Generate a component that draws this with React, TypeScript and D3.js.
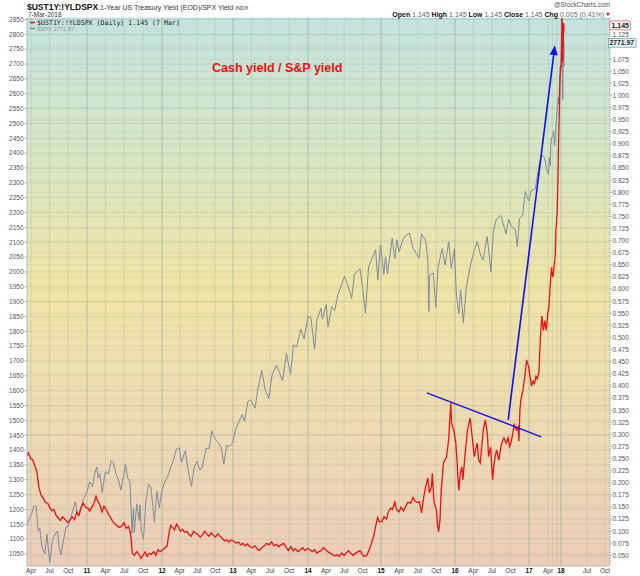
import * as d3 from "d3";

// $SPX (left axis)
const spxData: [string, number][] = [
  ["2010-03-12", 1150], ["2010-03-24", 1168], ["2010-04-05", 1187], ["2010-04-15", 1211], ["2010-04-26", 1212],
  ["2010-05-06", 1128], ["2010-05-14", 1136], ["2010-05-25", 1074], ["2010-06-08", 1050], ["2010-06-18", 1117],
  ["2010-07-02", 1022], ["2010-07-15", 1096], ["2010-07-26", 1115], ["2010-08-09", 1127], ["2010-08-16", 1080],
  ["2010-08-26", 1047], ["2010-09-08", 1098], ["2010-09-20", 1142], ["2010-09-30", 1141], ["2010-10-15", 1176],
  ["2010-11-05", 1225], ["2010-11-16", 1178], ["2010-12-01", 1206], ["2010-12-15", 1236], ["2010-12-31", 1258],
  ["2011-01-14", 1293], ["2011-01-28", 1276], ["2011-02-07", 1320], ["2011-02-18", 1343], ["2011-02-24", 1306],
  ["2011-03-04", 1321], ["2011-03-16", 1257], ["2011-03-31", 1326], ["2011-04-15", 1320], ["2011-04-29", 1364],
  ["2011-05-10", 1357], ["2011-05-23", 1317], ["2011-06-03", 1300], ["2011-06-15", 1265], ["2011-06-30", 1321],
  ["2011-07-07", 1353], ["2011-07-18", 1306], ["2011-07-29", 1292], ["2011-08-04", 1200], ["2011-08-08", 1119],
  ["2011-08-15", 1204], ["2011-08-19", 1123], ["2011-08-31", 1219], ["2011-09-12", 1162], ["2011-09-16", 1216],
  ["2011-09-22", 1130], ["2011-10-03", 1099], ["2011-10-14", 1225], ["2011-10-27", 1285], ["2011-11-08", 1275],
  ["2011-11-25", 1159], ["2011-12-07", 1261], ["2011-12-19", 1206], ["2011-12-30", 1258],
  ["2012-01-13", 1289], ["2012-01-31", 1312], ["2012-02-15", 1343], ["2012-02-29", 1366], ["2012-03-15", 1403],
  ["2012-03-30", 1408], ["2012-04-10", 1358], ["2012-04-30", 1398], ["2012-05-15", 1331], ["2012-06-01", 1278],
  ["2012-06-15", 1343], ["2012-06-29", 1362], ["2012-07-12", 1335], ["2012-07-25", 1338], ["2012-08-15", 1405],
  ["2012-08-31", 1406], ["2012-09-14", 1465], ["2012-09-28", 1440], ["2012-10-12", 1428], ["2012-10-31", 1412],
  ["2012-11-15", 1353], ["2012-11-30", 1416], ["2012-12-14", 1413], ["2012-12-31", 1426],
  ["2013-01-15", 1472], ["2013-01-31", 1498], ["2013-02-15", 1519], ["2013-02-26", 1496], ["2013-03-14", 1563],
  ["2013-03-28", 1569], ["2013-04-18", 1541], ["2013-04-30", 1597], ["2013-05-21", 1669], ["2013-06-05", 1608],
  ["2013-06-24", 1573], ["2013-07-10", 1652], ["2013-07-31", 1686], ["2013-08-15", 1661], ["2013-08-30", 1633],
  ["2013-09-18", 1725], ["2013-10-08", 1656], ["2013-10-22", 1754], ["2013-11-07", 1747], ["2013-11-27", 1807],
  ["2013-12-13", 1775], ["2013-12-31", 1848],
  ["2014-01-15", 1848], ["2014-02-03", 1741], ["2014-02-14", 1838], ["2014-03-07", 1878], ["2014-03-14", 1841],
  ["2014-04-02", 1890], ["2014-04-11", 1815], ["2014-04-30", 1883], ["2014-05-15", 1870], ["2014-05-30", 1923],
  ["2014-06-20", 1962], ["2014-07-03", 1985], ["2014-07-31", 1930], ["2014-08-07", 1909], ["2014-08-21", 1992],
  ["2014-09-18", 2011], ["2014-10-01", 1946], ["2014-10-15", 1862], ["2014-10-31", 2018], ["2014-11-14", 2039],
  ["2014-12-05", 2075], ["2014-12-16", 1972], ["2014-12-29", 2090],
  ["2015-01-15", 1992], ["2015-01-23", 2051], ["2015-02-02", 1994], ["2015-02-25", 2113], ["2015-03-10", 2044],
  ["2015-03-20", 2108], ["2015-03-31", 2068], ["2015-04-24", 2117], ["2015-05-21", 2131], ["2015-06-08", 2080],
  ["2015-06-29", 2057], ["2015-07-08", 2046], ["2015-07-20", 2128], ["2015-08-10", 2104], ["2015-08-20", 2035],
  ["2015-08-25", 1867], ["2015-08-28", 1989], ["2015-09-16", 1996], ["2015-09-28", 1881], ["2015-10-09", 2014],
  ["2015-10-30", 2079], ["2015-11-13", 2023], ["2015-12-01", 2102], ["2015-12-14", 2012], ["2015-12-29", 2078],
  ["2016-01-08", 1922], ["2016-01-20", 1859], ["2016-01-29", 1940], ["2016-02-11", 1829], ["2016-02-26", 1948],
  ["2016-03-15", 2015], ["2016-03-31", 2060], ["2016-04-20", 2102], ["2016-05-06", 2057], ["2016-05-19", 2040],
  ["2016-06-08", 2119], ["2016-06-27", 2000], ["2016-07-08", 2130], ["2016-07-22", 2175], ["2016-08-15", 2190],
  ["2016-09-09", 2128], ["2016-09-22", 2177], ["2016-10-07", 2153], ["2016-10-25", 2143], ["2016-11-04", 2085],
  ["2016-11-15", 2180], ["2016-12-01", 2191], ["2016-12-13", 2271], ["2016-12-30", 2239],
  ["2017-01-13", 2275], ["2017-01-31", 2279], ["2017-02-15", 2349], ["2017-03-01", 2396], ["2017-03-15", 2385],
  ["2017-03-27", 2342], ["2017-04-13", 2329], ["2017-04-28", 2384], ["2017-05-17", 2357], ["2017-06-01", 2430],
  ["2017-06-19", 2453], ["2017-07-14", 2459], ["2017-07-27", 2475], ["2017-08-18", 2425], ["2017-09-05", 2457],
  ["2017-09-29", 2519], ["2017-10-16", 2557], ["2017-11-03", 2588], ["2017-11-15", 2565], ["2017-11-30", 2648],
  ["2017-12-18", 2690], ["2017-12-29", 2674],
  ["2018-01-12", 2786], ["2018-01-26", 2873], ["2018-02-02", 2762], ["2018-02-08", 2581], ["2018-02-14", 2698],
  ["2018-02-26", 2780], ["2018-03-02", 2691], ["2018-03-07", 2771.97],
];

// $UST1Y:!YLDSPX (right axis)
const ratioData: [string, number][] = [
  ["2010-03-12", 0.255], ["2010-03-19", 0.262], ["2010-03-31", 0.25], ["2010-04-09", 0.248], ["2010-04-20", 0.235],
  ["2010-04-30", 0.222], ["2010-05-10", 0.19], ["2010-05-20", 0.175], ["2010-06-01", 0.168], ["2010-06-10", 0.16],
  ["2010-06-22", 0.158], ["2010-07-01", 0.15], ["2010-07-12", 0.142], ["2010-07-23", 0.145], ["2010-08-03", 0.132],
  ["2010-08-13", 0.128], ["2010-08-24", 0.122], ["2010-09-03", 0.13], ["2010-09-15", 0.125], ["2010-09-27", 0.118],
  ["2010-10-08", 0.122], ["2010-10-20", 0.13], ["2010-11-01", 0.124], ["2010-11-12", 0.14], ["2010-11-23", 0.133],
  ["2010-12-03", 0.148], ["2010-12-14", 0.158], ["2010-12-24", 0.15],
  ["2011-01-05", 0.148], ["2011-01-14", 0.142], ["2011-01-25", 0.15], ["2011-02-04", 0.158], ["2011-02-14", 0.172],
  ["2011-02-24", 0.16], ["2011-03-04", 0.155], ["2011-03-15", 0.14], ["2011-03-25", 0.152], ["2011-04-05", 0.145],
  ["2011-04-15", 0.135], ["2011-04-27", 0.128], ["2011-05-06", 0.12], ["2011-05-18", 0.115], ["2011-05-31", 0.11],
  ["2011-06-10", 0.108], ["2011-06-21", 0.112], ["2011-06-30", 0.118], ["2011-07-11", 0.106], ["2011-07-22", 0.11],
  ["2011-07-29", 0.1], ["2011-08-04", 0.085], ["2011-08-09", 0.055], ["2011-08-19", 0.05], ["2011-08-31", 0.058],
  ["2011-09-12", 0.052], ["2011-09-20", 0.044], ["2011-09-30", 0.05], ["2011-10-10", 0.057], ["2011-10-21", 0.048],
  ["2011-10-31", 0.055], ["2011-11-10", 0.052], ["2011-11-22", 0.058], ["2011-12-02", 0.05], ["2011-12-13", 0.062],
  ["2011-12-23", 0.058],
  ["2012-01-05", 0.062], ["2012-01-17", 0.066], ["2012-01-27", 0.07], ["2012-02-07", 0.098], ["2012-02-15", 0.112],
  ["2012-02-24", 0.108], ["2012-03-06", 0.103], ["2012-03-16", 0.115], ["2012-03-26", 0.108], ["2012-04-05", 0.1],
  ["2012-04-16", 0.104], ["2012-04-26", 0.098], ["2012-05-08", 0.1], ["2012-05-18", 0.094], ["2012-05-31", 0.09],
  ["2012-06-12", 0.1], ["2012-06-22", 0.096], ["2012-07-03", 0.094], ["2012-07-16", 0.088], ["2012-07-27", 0.092],
  ["2012-08-08", 0.1], ["2012-08-20", 0.094], ["2012-08-30", 0.09], ["2012-09-11", 0.097], ["2012-09-21", 0.092],
  ["2012-10-02", 0.088], ["2012-10-15", 0.095], ["2012-10-26", 0.09], ["2012-11-07", 0.085], ["2012-11-19", 0.08],
  ["2012-11-30", 0.083], ["2012-12-10", 0.078], ["2012-12-21", 0.082],
  ["2013-01-03", 0.08], ["2013-01-15", 0.076], ["2013-01-28", 0.078], ["2013-02-07", 0.072], ["2013-02-19", 0.075],
  ["2013-03-01", 0.07], ["2013-03-13", 0.074], ["2013-03-25", 0.068], ["2013-04-05", 0.066], ["2013-04-17", 0.07],
  ["2013-04-29", 0.064], ["2013-05-09", 0.06], ["2013-05-21", 0.066], ["2013-06-03", 0.07], ["2013-06-13", 0.075],
  ["2013-06-25", 0.072], ["2013-07-08", 0.078], ["2013-07-19", 0.07], ["2013-07-31", 0.073], ["2013-08-12", 0.068],
  ["2013-08-23", 0.072], ["2013-09-05", 0.075], ["2013-09-17", 0.066], ["2013-09-27", 0.06], ["2013-10-09", 0.068],
  ["2013-10-21", 0.06], ["2013-11-01", 0.064], ["2013-11-13", 0.058], ["2013-11-25", 0.062], ["2013-12-06", 0.066],
  ["2013-12-18", 0.06], ["2013-12-30", 0.065],
  ["2014-01-10", 0.062], ["2014-01-22", 0.058], ["2014-02-03", 0.062], ["2014-02-13", 0.055], ["2014-02-25", 0.058],
  ["2014-03-07", 0.06], ["2014-03-19", 0.066], ["2014-03-31", 0.062], ["2014-04-10", 0.058], ["2014-04-22", 0.055],
  ["2014-05-02", 0.052], ["2014-05-14", 0.049], ["2014-05-27", 0.052], ["2014-06-06", 0.048], ["2014-06-18", 0.055],
  ["2014-06-30", 0.05], ["2014-07-11", 0.055], ["2014-07-23", 0.06], ["2014-08-04", 0.054], ["2014-08-15", 0.05],
  ["2014-08-27", 0.055], ["2014-09-08", 0.058], ["2014-09-18", 0.06], ["2014-09-30", 0.052], ["2014-10-10", 0.048],
  ["2014-10-22", 0.05], ["2014-11-03", 0.062], ["2014-11-14", 0.075], ["2014-11-26", 0.09], ["2014-12-05", 0.11],
  ["2014-12-15", 0.128], ["2014-12-24", 0.12],
  ["2015-01-06", 0.12], ["2015-01-16", 0.13], ["2015-01-28", 0.125], ["2015-02-06", 0.14], ["2015-02-18", 0.148],
  ["2015-02-27", 0.145], ["2015-03-10", 0.16], ["2015-03-19", 0.145], ["2015-03-31", 0.14], ["2015-04-10", 0.15],
  ["2015-04-22", 0.142], ["2015-05-04", 0.152], ["2015-05-14", 0.16], ["2015-05-27", 0.158], ["2015-06-08", 0.17],
  ["2015-06-18", 0.162], ["2015-06-30", 0.16], ["2015-07-10", 0.16], ["2015-07-20", 0.138], ["2015-07-31", 0.171],
  ["2015-08-11", 0.195], ["2015-08-20", 0.21], ["2015-08-28", 0.179], ["2015-09-07", 0.192], ["2015-09-11", 0.22],
  ["2015-09-20", 0.159], ["2015-10-01", 0.144], ["2015-10-06", 0.117], ["2015-10-12", 0.099], ["2015-10-19", 0.123],
  ["2015-10-25", 0.185], ["2015-11-05", 0.241], ["2015-11-20", 0.253], ["2015-12-01", 0.29], ["2015-12-11", 0.365],
  ["2015-12-15", 0.324], ["2015-12-26", 0.309],
  ["2016-01-05", 0.282], ["2016-01-12", 0.24], ["2016-01-15", 0.212], ["2016-01-20", 0.185], ["2016-01-27", 0.22],
  ["2016-02-04", 0.233], ["2016-02-09", 0.206], ["2016-02-18", 0.25], ["2016-03-01", 0.303], ["2016-03-08", 0.32],
  ["2016-03-16", 0.334], ["2016-03-26", 0.295], ["2016-04-05", 0.254], ["2016-04-13", 0.27], ["2016-04-20", 0.282],
  ["2016-04-27", 0.247], ["2016-05-05", 0.241], ["2016-05-12", 0.274], ["2016-05-20", 0.309], ["2016-05-30", 0.33],
  ["2016-06-06", 0.31], ["2016-06-10", 0.295], ["2016-06-15", 0.254], ["2016-06-25", 0.274], ["2016-07-05", 0.206],
  ["2016-07-10", 0.233], ["2016-07-18", 0.255], ["2016-07-25", 0.268], ["2016-08-05", 0.247], ["2016-08-15", 0.274],
  ["2016-08-22", 0.285], ["2016-08-30", 0.293], ["2016-09-10", 0.282], ["2016-09-20", 0.293], ["2016-09-27", 0.275],
  ["2016-10-05", 0.284], ["2016-10-12", 0.3], ["2016-10-20", 0.32], ["2016-10-30", 0.309], ["2016-11-08", 0.315],
  ["2016-11-12", 0.286], ["2016-11-17", 0.35], ["2016-11-22", 0.371], ["2016-12-02", 0.392], ["2016-12-07", 0.406],
  ["2016-12-14", 0.43], ["2016-12-20", 0.454], ["2016-12-30", 0.44],
  ["2017-01-06", 0.42], ["2017-01-13", 0.4], ["2017-01-20", 0.41], ["2017-01-27", 0.405], ["2017-02-03", 0.42],
  ["2017-02-10", 0.415], ["2017-02-17", 0.43], ["2017-02-24", 0.5], ["2017-03-03", 0.545], ["2017-03-10", 0.515],
  ["2017-03-17", 0.535], ["2017-03-24", 0.515], ["2017-03-31", 0.55], ["2017-04-14", 0.56], ["2017-04-28", 0.575],
  ["2017-05-12", 0.6], ["2017-05-31", 0.625], ["2017-06-16", 0.645], ["2017-06-30", 0.63], ["2017-07-14", 0.625],
  ["2017-07-31", 0.64], ["2017-08-15", 0.655], ["2017-08-31", 0.67], ["2017-09-15", 0.72], ["2017-09-29", 0.74],
  ["2017-10-13", 0.76], ["2017-10-27", 0.82], ["2017-11-10", 0.9], ["2017-11-24", 0.96], ["2017-12-08", 1.02],
  ["2017-12-22", 1.06],
  ["2018-01-05", 1.06], ["2018-01-16", 1.1], ["2018-01-26", 1.16], ["2018-02-08", 1.07], ["2018-02-20", 1.12],
  ["2018-02-27", 1.15], ["2018-03-02", 1.13], ["2018-03-07", 1.145],
];

// hand-drawn annotations, in data units (date, right-axis value)
const trendLine: [string, number][] = [["2015-08-15", 0.386], ["2017-02-28", 0.295]];
const arrowLine: [string, number][] = [["2016-09-20", 0.33], ["2017-08-25", 1.104]];

const leftTicks = d3.range(1050, 2851, 50);
const rightTicks = d3.range(2, 46).map((i) => i * 0.025);
const monthNames = ["Jan", "Feb", "Mar", "Apr", "May", "Jun", "Jul", "Aug", "Sep", "Oct", "Nov", "Dec"];
const skippedLabels = ["2017-07", "2017-10"];

const W = 640;
const H = 576;
const left = 27;
const right = 610;
const top = 18;
const bottom = 566;
const font = "'Liberation Sans', Arial, sans-serif";

const parse = d3.timeParse("%Y-%m-%d");
const fmtYM = d3.timeFormat("%Y-%m");

// StockCharts spaces by trading rows, so the time axis is not uniform
const x = d3
  .scaleTime()
  .domain(
    [
      "2010-03-12", "2010-04-01", "2011-01-01", "2012-01-01", "2013-01-01", "2014-01-01", "2015-01-01",
      "2016-01-01", "2017-01-01", "2017-04-01", "2018-01-01", "2018-03-07", "2018-07-01", "2018-10-01",
      "2018-10-15",
    ].map((d) => parse(d) as Date),
  )
  .range([27, 31, 87, 162, 233, 308, 381, 455, 529, 548, 561, 564, 587, 605, 610]);

const yLeft = d3.scaleLinear().domain([1050, 2850]).range([554, 19.5]);
const yRight = d3.scaleLinear().domain([0.05, 1.125]).range([555.5, 35]);

const quarterTicks = d3
  .timeMonths(new Date(2010, 3, 1), new Date(2018, 9, 2), 3)
  .filter((d) => fmtYM(d) !== "2018-04");

const spxLine = d3
  .line<[string, number]>()
  .x((d) => x(parse(d[0]) as Date))
  .y((d) => yLeft(d[1]));

const ratioLine = d3
  .line<[string, number]>()
  .x((d) => x(parse(d[0]) as Date))
  .y((d) => yRight(d[1]));

function pt(d: [string, number]) {
  return [x(parse(d[0]) as Date), yRight(d[1])];
}

export default function App() {
  const [a0, a1] = arrowLine.map(pt);
  const ang = Math.atan2(a1[1] - a0[1], a1[0] - a0[0]);
  const hl = 10;
  const hw = 4;
  const bx = a1[0] - hl * Math.cos(ang);
  const by = a1[1] - hl * Math.sin(ang);
  const head = [
    [a1[0], a1[1]],
    [bx + hw * Math.sin(ang), by - hw * Math.cos(ang)],
    [bx - hw * Math.sin(ang), by + hw * Math.cos(ang)],
  ]
    .map((p) => p.join(","))
    .join(" ");
  const [t0, t1] = trendLine.map(pt);

  // the two value flags sit on top of these labels
  const flagY = [yRight(1.145), yLeft(2771.97)];
  const visibleRight = rightTicks.filter((v) => flagY.every((fy) => Math.abs(yRight(v) - fy) > 6));

  return (
    <div style={{ position: "absolute", left: 0, top: 0 }}>
      <svg width={W} height={H} viewBox={`0 0 ${W} ${H}`} style={{ display: "block", background: "#fff" }}>
        <defs>
          <linearGradient id="bg" x1="0" y1="0" x2="0" y2="1">
            <stop offset="0%" stopColor="#c3e3df" />
            <stop offset="22%" stopColor="#d5e6c7" />
            <stop offset="48%" stopColor="#efe5a6" />
            <stop offset="75%" stopColor="#eedbb3" />
            <stop offset="100%" stopColor="#ebcdb9" />
          </linearGradient>
          <clipPath id="plot">
            <rect x={left} y={top} width={right - left} height={bottom - top} />
          </clipPath>
        </defs>

        <rect x={left} y={top} width={right - left} height={bottom - top} fill="url(#bg)" />

        {/* grid */}
        <g>
          {rightTicks.map((v) => (
            <line key={"r" + v} x1={left} x2={right} y1={yRight(v)} y2={yRight(v)} stroke="#9aa89a" strokeOpacity={0.22} strokeWidth={0.7} />
          ))}
          {leftTicks.map((v) => (
            <line key={"l" + v} x1={left} x2={right} y1={yLeft(v)} y2={yLeft(v)} stroke="#8f9c90" strokeOpacity={0.32} strokeWidth={0.7} />
          ))}
          {quarterTicks.map((d) => (
            <line
              key={"q" + d.getTime()}
              x1={x(d)}
              x2={x(d)}
              y1={top}
              y2={bottom}
              stroke="#8f9c90"
              strokeOpacity={d.getMonth() === 0 ? 0.55 : 0.32}
              strokeWidth={d.getMonth() === 0 ? 1 : 0.7}
            />
          ))}
        </g>

        {/* series */}
        <g clipPath="url(#plot)">
          <path d={spxLine(spxData) ?? ""} fill="none" stroke="#7d8c9b" strokeWidth={1} />
          <path d={ratioLine(ratioData) ?? ""} fill="none" stroke="#ee1111" strokeWidth={1.3} />
          <line x1={t0[0]} y1={t0[1]} x2={t1[0]} y2={t1[1]} stroke="#1010ee" strokeWidth={1.4} />
          <line x1={a0[0]} y1={a0[1]} x2={bx} y2={by} stroke="#1010ee" strokeWidth={1.6} />
          <polygon points={head} fill="#1010ee" />
        </g>

        {/* frame */}
        <line x1={left} x2={left} y1={top} y2={bottom} stroke="#a8c0cc" />
        <line x1={left} x2={right} y1={bottom} y2={bottom} stroke="#a8c0cc" />
        <line x1={right} x2={right} y1={top} y2={bottom} stroke="#7c9fb0" strokeDasharray="1,1" />
        <line x1={left} x2={right} y1={top} y2={top} stroke="#b5cdd2" strokeWidth={0.6} />

        {/* left axis */}
        <g fontFamily={font} fontSize={6.5} fill="#555">
          {leftTicks.map((v) => (
            <g key={v}>
              <line x1={left - 3} x2={left} y1={yLeft(v)} y2={yLeft(v)} stroke="#999" strokeWidth={0.6} />
              <text x={left - 3.5} y={yLeft(v) + 2.3} textAnchor="end">
                {v}
              </text>
            </g>
          ))}
        </g>

        {/* right axis */}
        <g fontFamily={font} fontSize={6.5} fill="#555">
          {rightTicks.map((v) => (
            <line key={"t" + v} x1={right} x2={right + 2} y1={yRight(v)} y2={yRight(v)} stroke="#999" strokeWidth={0.6} />
          ))}
          {visibleRight.map((v) => (
            <text key={v} x={right + 2.5} y={yRight(v) + 2.3}>
              {v.toFixed(3)}
            </text>
          ))}
        </g>

        {/* current value flags */}
        <g fontFamily={font} fontSize={7} fontWeight="bold" fill="#222">
          <rect x={609.5} y={flagY[0] - 4.5} width={21} height={9} rx={2} fill="#f4f4f4" stroke="#e36b6b" strokeWidth={0.8} />
          <text x={611.5} y={flagY[0] + 2.5}>1.145</text>
          <rect x={608.5} y={flagY[1] - 4} width={27.5} height={8.5} fill="#e9f3f5" stroke="#5aa7b8" strokeWidth={0.8} />
          <text x={609.5} y={flagY[1] + 2.7} fontSize={6.8}>2771.97</text>
        </g>

        {/* bottom axis */}
        <g fontFamily={font} fontSize={6.5} fill="#444">
          {quarterTicks
            .filter((d) => !skippedLabels.includes(fmtYM(d)))
            .map((d) => {
              const isYear = d.getMonth() === 0;
              return (
                <text
                  key={d.getTime()}
                  x={x(d)}
                  y={572.5}
                  textAnchor="middle"
                  fontWeight={isYear ? "bold" : "normal"}
                  fill={isYear ? "#111" : "#444"}
                >
                  {isYear ? String(d.getFullYear()).slice(2) : monthNames[d.getMonth()]}
                </text>
              );
            })}
        </g>

        {/* header */}
        <text x={27} y={10} fontFamily={font} fill="#111">
          <tspan fontWeight="bold" fontSize={8.5}>$UST1Y:!YLDSPX</tspan>
          <tspan fontSize={7} fill="#333"> 1-Year US Treasury Yield (EOD)/SPX Yield </tspan>
          <tspan fontSize={5.5} fill="#333">INDX</tspan>
        </text>
        <text x={28} y={16.5} fontFamily={font} fontSize={6.5} fill="#333">
          7-Mar-2018
        </text>
        <text x={610} y={7} textAnchor="end" fontFamily={font} fontSize={6.5} fill="#555">
          @StockCharts.com
        </text>
        <text x={604} y={16.5} textAnchor="end" fontFamily={font} fontSize={7} fill="#666">
          <tspan fontWeight="bold" fill="#111">Open</tspan> 1.145 <tspan fontWeight="bold" fill="#111">High</tspan> 1.145{" "}
          <tspan fontWeight="bold" fill="#111">Low</tspan> 1.145 <tspan fontWeight="bold" fill="#111">Close</tspan> 1.145{" "}
          <tspan fontWeight="bold" fill="#111">Chg</tspan> 0.005 (0.41%)
        </text>
        <polygon points="606,13 610,13 608,16" fill="#d11" />

        {/* legend */}
        <line x1={30} x2={35} y1={22.5} y2={22.5} stroke="#ee1111" strokeWidth={1.6} />
        <text x={37} y={25} fontFamily="'DejaVu Sans Mono', monospace" fontSize={6.6} fill="#222">
          $UST1Y:!YLDSPX (Daily) 1.145 (7 Mar)
        </text>
        <line x1={30} x2={35} y1={28.5} y2={28.5} stroke="#7d8c9b" strokeWidth={1.4} />
        <text x={37} y={31} fontFamily={font} fontSize={5.8} fill="#8a96a0">
          $SPX 2771.97
        </text>

        {/* annotation title */}
        <text x={212} y={72} fontFamily={font} fontSize={12.5} fontWeight="bold" fill="#ee1111">
          Cash yield / S&amp;P yield
        </text>
      </svg>
    </div>
  );
}
